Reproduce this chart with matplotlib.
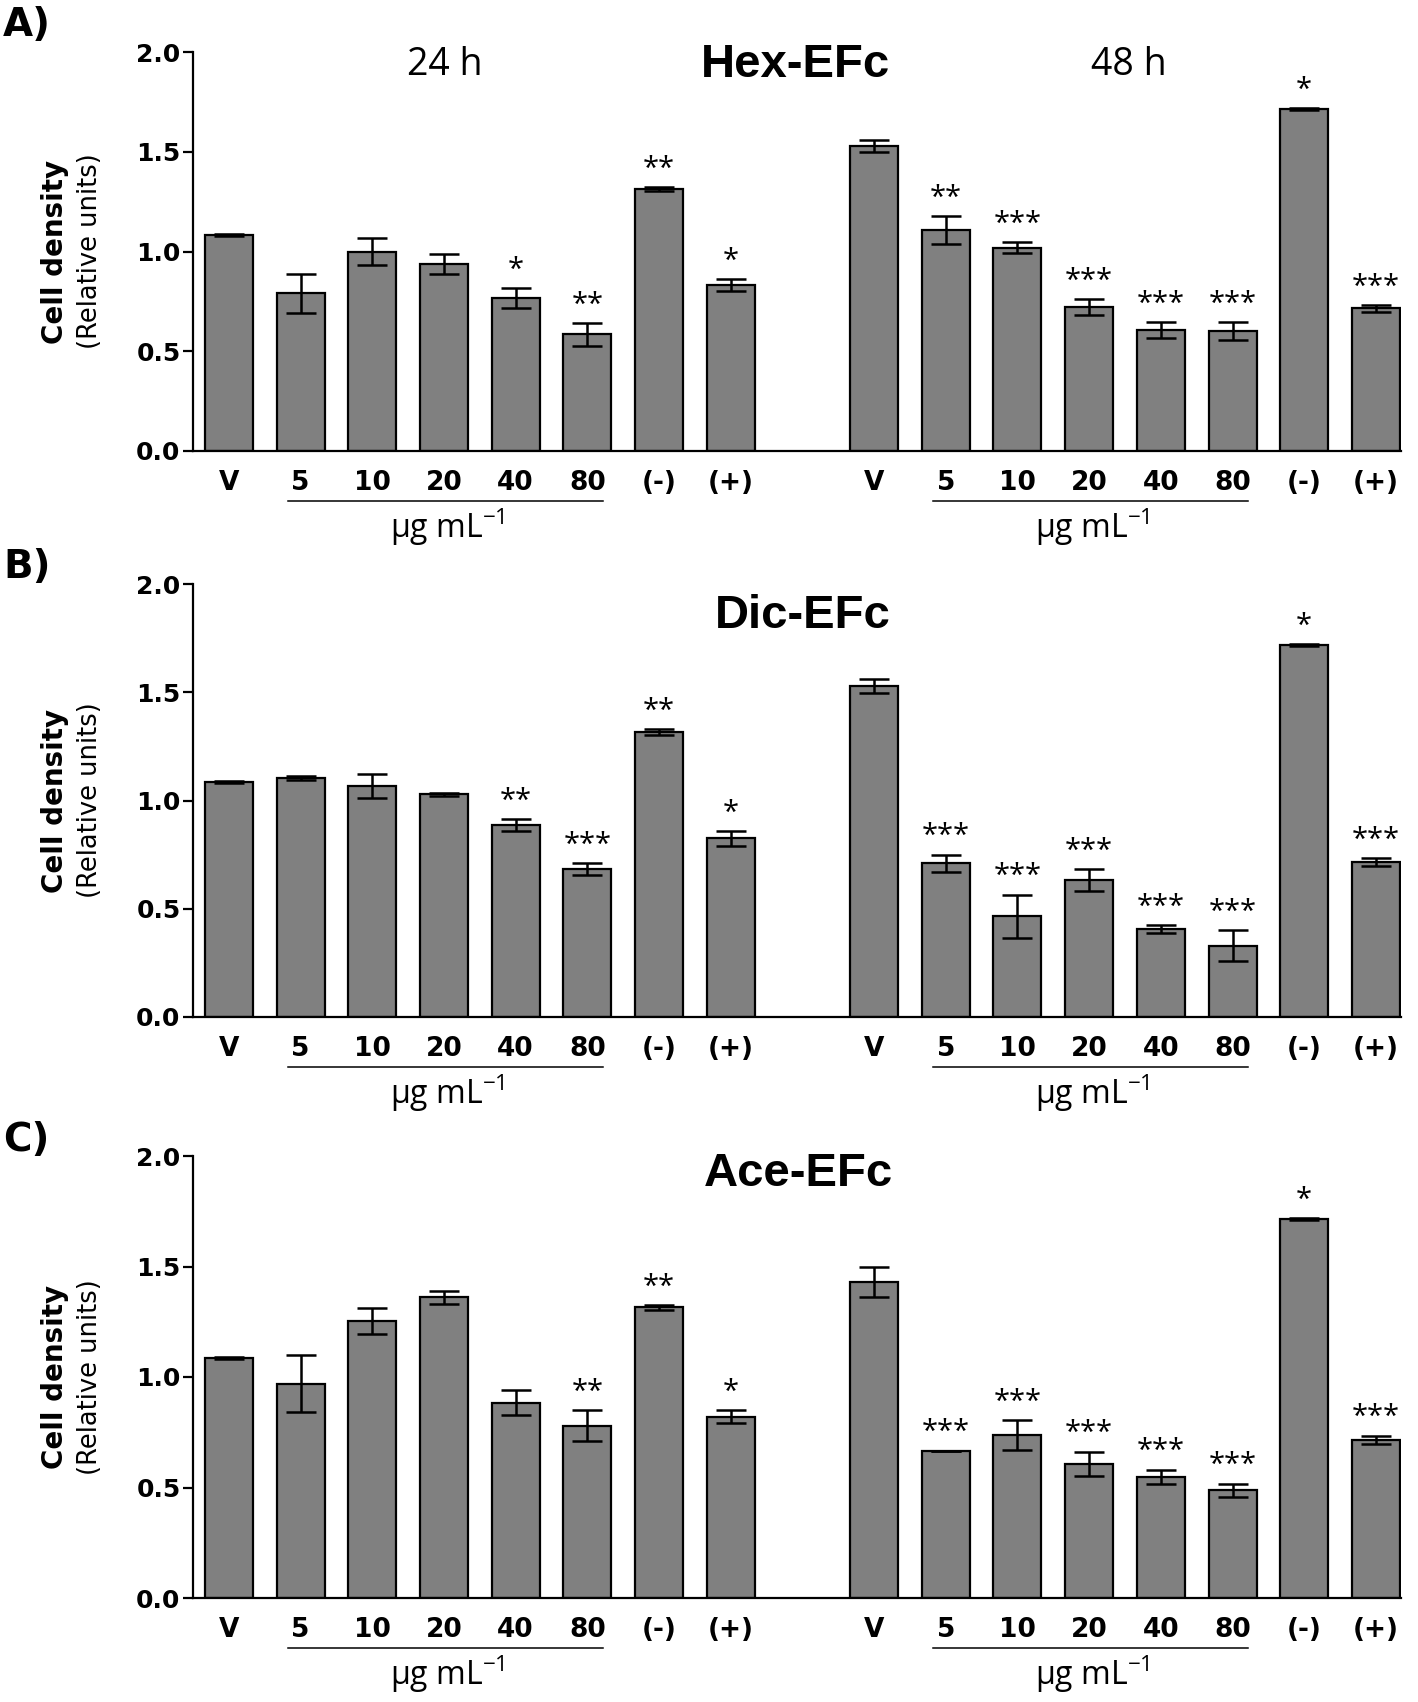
import numpy as np
import matplotlib
matplotlib.use("Agg")
import matplotlib.pyplot as plt
from matplotlib import transforms

# Datos
labels = ['V', '5', '10', '20', '40', '80', '(-)', '(+)']
titles = ['Hex-EFc', 'Dic-EFc', 'Ace-EFc']
letters = ['A)', 'B)', 'C)']

hex_24 = [1.085, 0.79, 1.00, 0.935, 0.765, 0.585, 1.315, 0.83]
hex_24_err = [0.005, 0.097, 0.07, 0.05, 0.05, 0.057, 0.01, 0.03]
hex_48 = [1.53, 1.11, 1.02, 0.72, 0.605, 0.60, 1.715, 0.715]
hex_48_err = [0.03, 0.07, 0.027, 0.04, 0.04, 0.045, 0.005, 0.016]
hex_24_sig = ['', '', '', '', '*', '**', '**', '*']
hex_48_sig = ['', '**', '***', '***', '***', '***', '*', '***']

dic_24 = [1.085, 1.105, 1.067, 1.028, 0.886, 0.684, 1.316, 0.826]
dic_24_err = [0.005, 0.01, 0.056, 0.005, 0.028, 0.026, 0.013, 0.034]
dic_48 = [1.53, 0.71, 0.465, 0.633, 0.408, 0.33, 1.717, 0.717]
dic_48_err = [0.033, 0.04, 0.10, 0.05, 0.018, 0.07, 0.005, 0.018]
dic_24_sig = ['', '', '', '', '**', '***', '**', '*']
dic_48_sig = ['', '***', '***', '***', '***', '***', '*', '***']

ace_24 = [1.087, 0.97, 1.253, 1.36, 0.883, 0.78, 1.315, 0.82]
ace_24_err = [0.005, 0.13, 0.06, 0.03, 0.057, 0.07, 0.01, 0.03]
ace_48 = [1.43, 0.667, 0.738, 0.607, 0.548, 0.487, 1.715, 0.715]
ace_48_err = [0.068, 0.0, 0.068, 0.055, 0.033, 0.03, 0.005, 0.02]
ace_24_sig = ['', '', '', '', '', '**', '**', '*']
ace_48_sig = ['', '***', '***', '***', '***', '***', '*', '***']

panels = [
    (hex_24, hex_24_err, hex_24_sig, hex_48, hex_48_err, hex_48_sig),
    (dic_24, dic_24_err, dic_24_sig, dic_48, dic_48_err, dic_48_sig),
    (ace_24, ace_24_err, ace_24_sig, ace_48, ace_48_err, ace_48_sig),
]

W, H = 1418, 1702
# posiciones de los ejes en píxeles: (izq, arriba, der, abajo)
boxes = [(193, 52, 1401, 451), (193, 584, 1401, 1017), (193, 1156, 1401, 1598)]
title_pos = [(7.9, 1.935), (8.0, 1.85), (7.95, 1.92)]
letter_y = [25, 567, 1140]

plt.rcParams['font.family'] = ['DejaVu Sans']
plt.rcParams['mathtext.fontset'] = 'custom'
plt.rcParams['mathtext.rm'] = 'Open Sans'
light = ['Open Sans', 'DejaVu Sans']
arial = ['Liberation Sans', 'DejaVu Sans']

fig = plt.figure(figsize=(W / 100, H / 100), dpi=100)

x24 = np.arange(8)
x48 = np.arange(9, 17)
xs = np.concatenate([x24, x48])

for i, (v24, e24, s24, v48, e48, s48) in enumerate(panels):
    l, t, r, b = boxes[i]
    ax = fig.add_axes([l / W, 1 - b / H, (r - l) / W, (b - t) / H])
    vals = np.array(v24 + v48)
    errs = np.array(e24 + e48)
    sigs = s24 + s48
    ax.bar(xs, vals, width=0.67, color='#808080', edgecolor='black', linewidth=1.6, zorder=2)
    ax.errorbar(xs, vals, yerr=errs, fmt='none', ecolor='black', elinewidth=1.8,
                capsize=11, capthick=1.8, zorder=3)
    for x, v, e, s in zip(xs, vals, errs, sigs):
        if s:
            ax.text(x, v + e + 0.015, s, ha='center', va='bottom', fontsize=21,
                    family=light)

    ax.set_xlim(-0.5, 16.35)
    ax.set_ylim(0, 2.0)
    ax.set_yticks([0, 0.5, 1.0, 1.5, 2.0])
    ax.set_yticklabels(['0.0', '0.5', '1.0', '1.5', '2.0'], fontweight='bold', fontsize=18)
    ax.set_xticks(xs)
    ax.set_xticklabels(labels + labels, fontweight='bold', fontsize=19)
    ax.tick_params(axis='x', length=0, pad=14)
    ax.tick_params(axis='y', length=7, width=1.6, pad=2)
    ax.spines['top'].set_visible(False)
    ax.spines['right'].set_visible(False)
    ax.spines['left'].set_linewidth(1.6)
    ax.spines['bottom'].set_linewidth(1.6)

    hpx = b - t
    trans = transforms.blended_transform_factory(ax.transData, ax.transAxes)
    for g in (0, 9):
        ax.plot([g + 0.82, g + 5.22], [-50 / hpx, -50 / hpx], color='black',
                linewidth=1.1, transform=trans, clip_on=False)
        ax.text(g + 3.05, -76 / hpx, 'μg mL$^{-1}$', transform=trans, ha='center',
                va='center', fontsize=23, family=light)

    tx, ty = title_pos[i]
    ax.text(tx, ty, titles[i], ha='center', va='center', fontsize=34,
            fontweight='bold', family=arial)
    if i == 0:
        ax.text(3.01, 1.935, '24 h', ha='center', va='center', fontsize=27, family=light)
        ax.text(12.55, 1.935, '48 h', ha='center', va='center', fontsize=27, family=light)

    ax.text(-0.114, 0.5, 'Cell density', transform=ax.transAxes, rotation=90,
            ha='center', va='center', fontsize=20, fontweight='bold')
    ax.text(-0.085, 0.5, '(Relative units)', transform=ax.transAxes, rotation=90,
            ha='center', va='center', fontsize=18.5)

    fig.text(3 / W, 1 - letter_y[i] / H, letters[i], ha='left', va='center',
             fontsize=28, fontweight='bold')

fig.savefig('out.png', dpi=100)
